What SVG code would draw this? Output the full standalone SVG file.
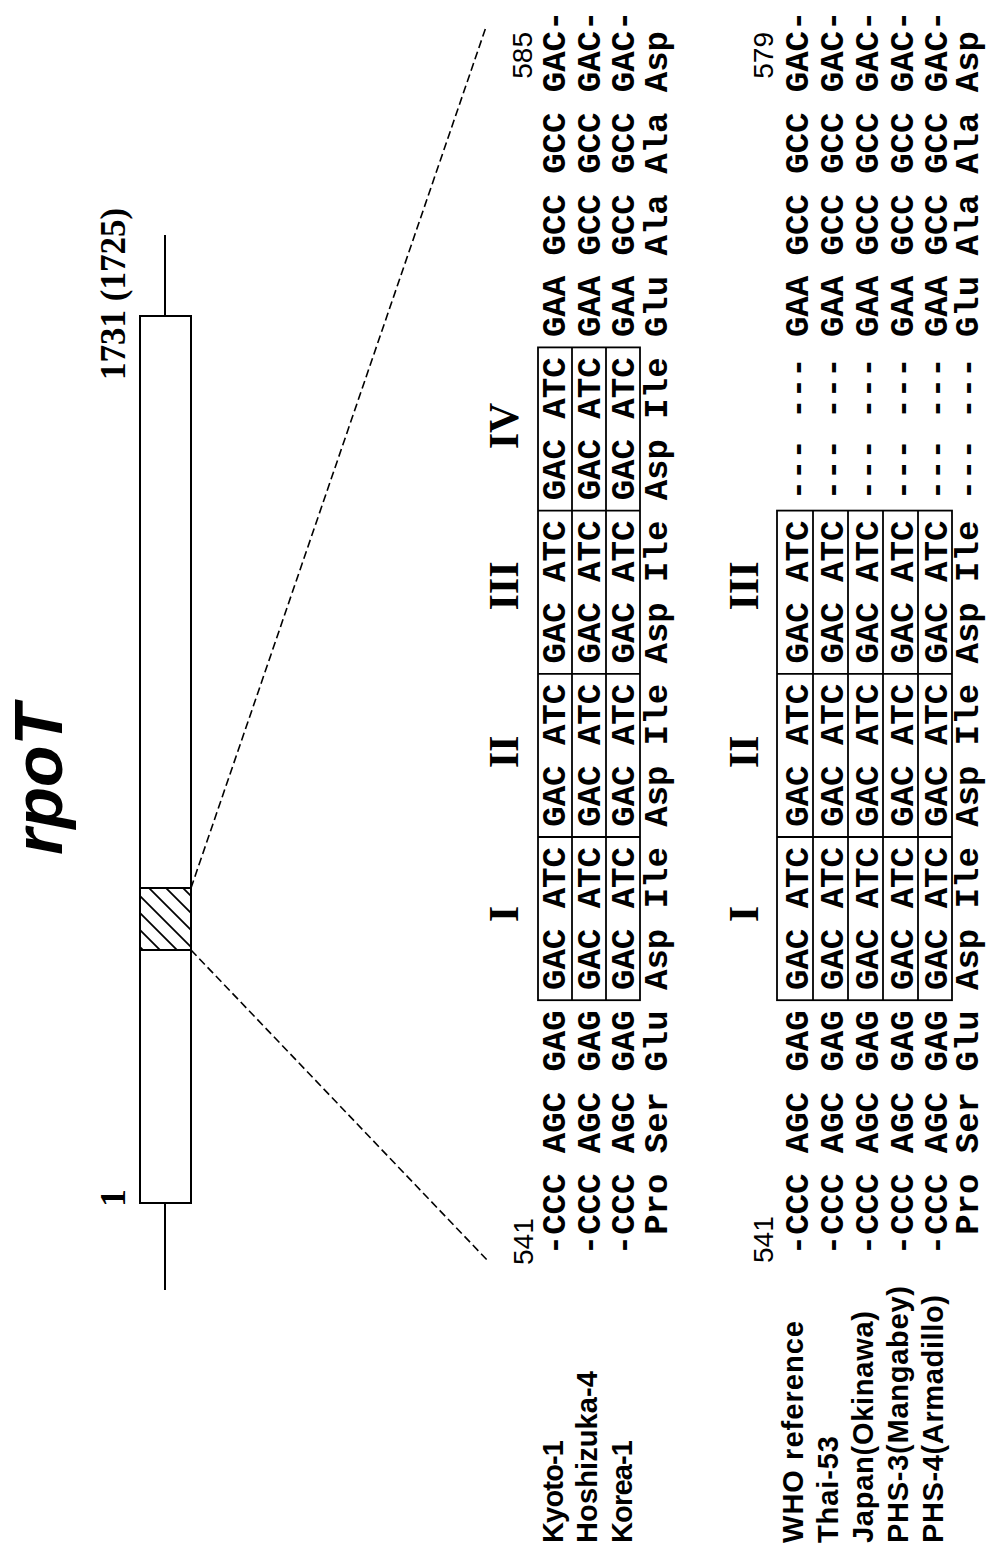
<svg xmlns="http://www.w3.org/2000/svg" width="986" height="1554" viewBox="0 0 986 1554">
<style>
.seq{font-family:"Liberation Mono","Courier New",monospace;font-size:34px;font-weight:bold;fill:#000}
.num{font-family:"Liberation Sans",Arial,sans-serif;font-size:28px;fill:#000}
.lab{font-family:"Liberation Sans",Arial,sans-serif;font-size:29px;font-weight:bold;fill:#000}
.rom{font-family:"Liberation Serif","Times New Roman",serif;font-size:42px;font-weight:bold;text-anchor:middle;fill:#000}
.pos{font-family:"Liberation Serif","Times New Roman",serif;font-size:35px;font-weight:bold;fill:#000}
.title{font-family:"Liberation Sans",Arial,sans-serif;font-size:68px;font-weight:bold;font-style:italic;fill:#000}
.box{fill:none;stroke:#000;stroke-width:1.8}
.ln{stroke:#000;stroke-width:2;fill:none}
.hatch{stroke:#000;stroke-width:1.8}
.dash{stroke:#000;stroke-width:1.6;stroke-dasharray:8 4;fill:none}
</style>
<defs>
<clipPath id="hclip"><rect x="140" y="888" width="51" height="62"/></clipPath>
</defs>
<rect width="986" height="1554" fill="#fff"/>

<g id="gene">
<line class="ln" x1="165" y1="235" x2="165" y2="316"/>
<line class="ln" x1="165" y1="1203" x2="165" y2="1290"/>
<rect class="ln" x="140" y="316" width="51" height="887" fill="#fff"/>
<g id="hatched-region">
<g clip-path="url(#hclip)">
<line class="hatch" x1="120" y1="927" x2="220" y2="1027"/>
<line class="hatch" x1="120" y1="910" x2="220" y2="1010"/>
<line class="hatch" x1="120" y1="893" x2="220" y2="993"/>
<line class="hatch" x1="120" y1="876" x2="220" y2="976"/>
<line class="hatch" x1="120" y1="859" x2="220" y2="959"/>
<line class="hatch" x1="120" y1="842" x2="220" y2="942"/>
<line class="hatch" x1="120" y1="825" x2="220" y2="925"/>
</g>
<rect class="ln" x="140" y="888" width="51" height="62"/>
</g>
</g>

<g id="connectors">
<line class="dash" x1="191" y1="888" x2="486" y2="27"/>
<line class="dash" x1="191" y1="950" x2="489" y2="1262"/>
</g>

<g id="boxes-top">
<rect class="box" x="538" y="347.4" width="102" height="652.8"/>
<line class="box" x1="572" y1="347.4" x2="572" y2="1000.2"/>
<line class="box" x1="606" y1="347.4" x2="606" y2="1000.2"/>
<line class="box" x1="538" y1="837" x2="640" y2="837"/>
<line class="box" x1="538" y1="673.8" x2="640" y2="673.8"/>
<line class="box" x1="538" y1="510.6" x2="640" y2="510.6"/>
</g>
<g id="boxes-bottom">
<rect class="box" x="777" y="510.6" width="175" height="489.6"/>
<line class="box" x1="813" y1="510.6" x2="813" y2="1000.2"/>
<line class="box" x1="848" y1="510.6" x2="848" y2="1000.2"/>
<line class="box" x1="883" y1="510.6" x2="883" y2="1000.2"/>
<line class="box" x1="918" y1="510.6" x2="918" y2="1000.2"/>
<line class="box" x1="777" y1="837" x2="952" y2="837"/>
<line class="box" x1="777" y1="673.8" x2="952" y2="673.8"/>
</g>

<g transform="translate(0,1554) rotate(-90)">
<g id="title"><text class="title" x="699" y="62">rpoT</text></g>
<g id="pos-labels">
<text class="pos" x="1174" y="125">1731 (1725)</text>
<text class="pos" x="356" y="125" text-anchor="middle">1</text>
</g>

<g id="block-top">
<text class="rom" x="640" y="518">I</text>
<text class="rom" x="802" y="518">II</text>
<text class="rom" x="968" y="518">III</text>
<text class="rom" x="1128" y="518">IV</text>
<text class="num" x="289" y="533">541</text>
<text class="num" x="1522" y="532" text-anchor="end">585</text>
<text class="lab" x="11" y="563" textLength="103" lengthAdjust="spacing">Kyoto-1</text>
<text class="lab" x="11" y="597" textLength="172" lengthAdjust="spacing">Hoshizuka-4</text>
<text class="lab" x="11" y="632" textLength="103" lengthAdjust="spacing">Korea-1</text>
<text class="seq" x="298.8" y="565">-CCC AGC GAG GAC ATC GAC ATC GAC ATC GAC ATC GAA GCC GCC GAC-</text>
<text class="seq" x="298.8" y="600">-CCC AGC GAG GAC ATC GAC ATC GAC ATC GAC ATC GAA GCC GCC GAC-</text>
<text class="seq" x="298.8" y="634">-CCC AGC GAG GAC ATC GAC ATC GAC ATC GAC ATC GAA GCC GCC GAC-</text>
<text class="seq" x="319.2" y="667">Pro Ser Glu Asp Ile Asp Ile Asp Ile Asp Ile Glu Ala Ala Asp</text>
</g>

<g id="block-bottom">
<text class="rom" x="640" y="758">I</text>
<text class="rom" x="802" y="758">II</text>
<text class="rom" x="968" y="758">III</text>
<text class="num" x="291" y="773">541</text>
<text class="num" x="1522" y="773" text-anchor="end">579</text>
<text class="lab" x="11" y="803" textLength="222" lengthAdjust="spacing">WHO reference</text>
<text class="lab" x="11" y="838" textLength="107" lengthAdjust="spacing">Thai-53</text>
<text class="lab" x="11" y="873" textLength="232" lengthAdjust="spacing">Japan(Okinawa)</text>
<text class="lab" x="11" y="908" textLength="257" lengthAdjust="spacing">PHS-3(Mangabey)</text>
<text class="lab" x="11" y="943" textLength="248" lengthAdjust="spacing">PHS-4(Armadillo)</text>
<text class="seq" x="298.8" y="808">-CCC AGC GAG GAC ATC GAC ATC GAC ATC --- --- GAA GCC GCC GAC-</text>
<text class="seq" x="298.8" y="843">-CCC AGC GAG GAC ATC GAC ATC GAC ATC --- --- GAA GCC GCC GAC-</text>
<text class="seq" x="298.8" y="878">-CCC AGC GAG GAC ATC GAC ATC GAC ATC --- --- GAA GCC GCC GAC-</text>
<text class="seq" x="298.8" y="913">-CCC AGC GAG GAC ATC GAC ATC GAC ATC --- --- GAA GCC GCC GAC-</text>
<text class="seq" x="298.8" y="947">-CCC AGC GAG GAC ATC GAC ATC GAC ATC --- --- GAA GCC GCC GAC-</text>
<text class="seq" x="319.2" y="978">Pro Ser Glu Asp Ile Asp Ile Asp Ile --- --- Glu Ala Ala Asp</text>
</g>
</g>
</svg>
